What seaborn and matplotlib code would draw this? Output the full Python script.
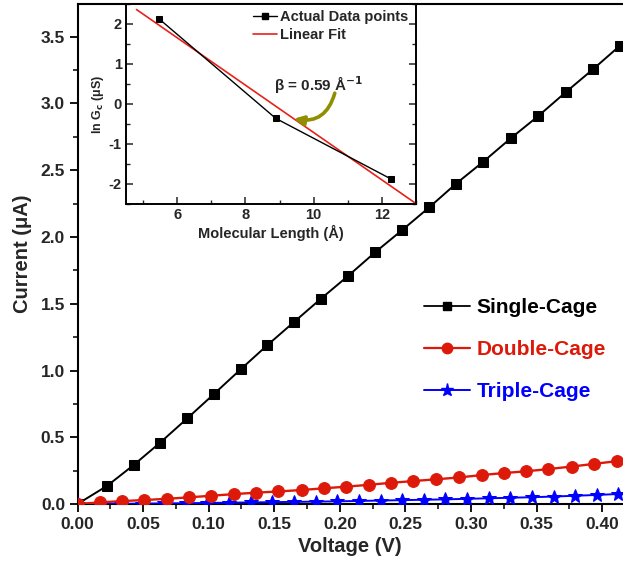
import matplotlib
matplotlib.use('Agg')
import matplotlib.pyplot as plt
import seaborn as sns
import pandas as pd
from matplotlib.lines import Line2D
from matplotlib.ticker import MultipleLocator, FormatStrFormatter

# ---------------- data ----------------
single_v = [0.0, 0.0227, 0.0428, 0.0629, 0.0837, 0.1040, 0.1244, 0.1446, 0.1650, 0.1856,
            0.2062, 0.2268, 0.2475, 0.2681, 0.2885, 0.3093, 0.3302, 0.3512, 0.3721, 0.3929, 0.4135]
single_i = [0.0, 0.137, 0.292, 0.459, 0.642, 0.824, 1.009, 1.189, 1.363, 1.538,
            1.708, 1.885, 2.052, 2.222, 2.399, 2.564, 2.739, 2.906, 3.084, 3.256, 3.433]

double_v = [0.0, 0.017, 0.034, 0.051, 0.068, 0.085, 0.102, 0.119, 0.136, 0.153, 0.171, 0.188,
            0.205, 0.222, 0.239, 0.256, 0.273, 0.291, 0.308, 0.325, 0.342, 0.359, 0.377, 0.394, 0.411]
double_i = [0.0, 0.012, 0.022, 0.030, 0.039, 0.050, 0.062, 0.074, 0.085, 0.094, 0.105, 0.118,
            0.130, 0.144, 0.159, 0.172, 0.185, 0.199, 0.217, 0.232, 0.245, 0.262, 0.281, 0.301, 0.321]

triple_v = [0.0, 0.0165, 0.033, 0.0495, 0.066, 0.0825, 0.099, 0.1155, 0.132, 0.1485, 0.165, 0.1815,
            0.198, 0.2145, 0.231, 0.2475, 0.264, 0.2805, 0.297, 0.3135, 0.330, 0.3465, 0.363,
            0.3795, 0.396, 0.412]
triple_i = [0.0, 0.001, 0.002, 0.003, 0.005, 0.006, 0.008, 0.010, 0.012, 0.014, 0.016, 0.018,
            0.020, 0.023, 0.026, 0.029, 0.032, 0.035, 0.039, 0.043, 0.047, 0.051, 0.056,
            0.062, 0.068, 0.075]

series_names = ["Single-Cage", "Double-Cage", "Triple-Cage"]

inset_length = [5.48, 8.89, 12.28]
inset_lnG = [2.12, -0.36, -1.88]
fit_length = [4.81, 12.95]
fit_lnG = [2.36, -2.46]
inset_names = ["Actual Data points", "Linear Fit"]
beta_text = "β = 0.59 Å$^{\\mathbf{-1}}$"

# ---------------- style ----------------
sns.set_style("ticks")
plt.rcParams['font.family'] = ['Liberation Sans', 'DejaVu Sans']
plt.rcParams['font.weight'] = 'bold'
plt.rcParams['axes.labelweight'] = 'bold'
plt.rcParams['axes.unicode_minus'] = False
plt.rcParams['mathtext.default'] = 'bf'

RED = '#DD1A0A'
BLUE = '#0000FF'
OLIVE = '#8F8F00'

fig = plt.figure(figsize=(6.23, 5.66), dpi=100)
ax = fig.add_axes([0.1244, 0.1095, 0.8756, 0.8834])

sns.lineplot(x=triple_v, y=triple_i, ax=ax, color=BLUE, marker='*', markersize=10.5,
             markeredgecolor=BLUE, linewidth=1.4, zorder=3)
sns.lineplot(x=single_v, y=single_i, ax=ax, color='black', marker='s', markersize=6.8,
             markeredgecolor='black', linewidth=1.4, zorder=4)
sns.lineplot(x=double_v, y=double_i, ax=ax, color=RED, marker='o', markersize=8.5,
             markeredgecolor=RED, linewidth=1.7, zorder=5)

ax.set_xlim(0, 0.4158)
ax.set_ylim(0, 3.745)
ax.xaxis.set_major_locator(MultipleLocator(0.05))
ax.xaxis.set_minor_locator(MultipleLocator(0.025))
ax.yaxis.set_major_locator(MultipleLocator(0.5))
ax.yaxis.set_minor_locator(MultipleLocator(0.25))
ax.xaxis.set_major_formatter(FormatStrFormatter('%.2f'))
ax.yaxis.set_major_formatter(FormatStrFormatter('%.1f'))
ax.tick_params(axis='both', which='major', direction='out', length=6, width=1.3,
               labelsize=12.5, color='black', pad=3)
ax.tick_params(axis='both', which='minor', direction='out', length=3.5, width=1.1, color='black')
for lab in ax.get_xticklabels() + ax.get_yticklabels():
    lab.set_fontweight('bold')
for s in ['left', 'bottom', 'top']:
    ax.spines[s].set_linewidth(1.5)
    ax.spines[s].set_color('black')
ax.spines['right'].set_visible(False)
ax.set_xlabel("Voltage (V)", fontsize=14.5, fontweight='bold', labelpad=4)
ax.set_ylabel("Current (μA)", fontsize=14.5, fontweight='bold', labelpad=6)

handles = [
    Line2D([], [], color='black', marker='s', markersize=6, linewidth=1.3),
    Line2D([], [], color=RED, marker='o', markersize=7.5, linewidth=1.6),
    Line2D([], [], color=BLUE, marker='*', markersize=9.5, linewidth=1.4),
]
leg = ax.legend(handles, series_names, loc='upper left', bbox_to_anchor=(0.636, 0.412),
                frameon=False, fontsize=15, handlelength=2.2, handletextpad=0.3,
                labelspacing=1.1, borderpad=0, borderaxespad=0)
for t, c in zip(leg.get_texts(), ['black', RED, BLUE]):
    t.set_color(c)
    t.set_fontweight('bold')

# ---------------- inset ----------------
ins = fig.add_axes([0.2022, 0.6396, 0.4655, 0.3534])
ins.set_facecolor('white')
sns.lineplot(x=inset_length, y=inset_lnG, ax=ins, color='black', marker='s', markersize=4.5,
             markeredgecolor='black', linewidth=1.0, zorder=3)
sns.lineplot(x=fit_length, y=fit_lnG, ax=ins, color='#E8211A', linewidth=1.2, zorder=2)
ins.set_xlim(4.5, 13.0)
ins.set_ylim(-2.5, 2.5)
ins.xaxis.set_major_locator(MultipleLocator(2))
ins.xaxis.set_minor_locator(MultipleLocator(1))
ins.yaxis.set_major_locator(MultipleLocator(1))
ins.yaxis.set_minor_locator(MultipleLocator(0.5))
ins.tick_params(axis='both', which='major', direction='in', length=5, width=1.1,
                labelsize=10.5, top=False, right=True, pad=3)
ins.tick_params(axis='both', which='minor', direction='in', length=3, width=1.0,
                top=False, right=True)
for lab in ins.get_xticklabels() + ins.get_yticklabels():
    lab.set_fontweight('bold')
for s in ins.spines.values():
    s.set_linewidth(1.4)
    s.set_color('black')
ins.set_xlabel("Molecular Length (Å)", fontsize=10.5, fontweight='bold', labelpad=2)
ins.set_ylabel("ln G$_\\mathbf{c}$ (μS)", fontsize=9, fontweight='bold', labelpad=2)

ihandles = [
    Line2D([], [], color='black', marker='s', markersize=4.5, linewidth=1.0),
    Line2D([], [], color='#E8211A', linewidth=1.2),
]
ileg = ins.legend(ihandles, inset_names, loc='upper left', bbox_to_anchor=(0.437, 0.97),
                  frameon=False, fontsize=10.5, handlelength=1.7, handletextpad=0.15,
                  labelspacing=0.3, borderpad=0, borderaxespad=0)
for t in ileg.get_texts():
    t.set_fontweight('bold')

ins.text(10.15, 0.48, beta_text, fontsize=11, fontweight='bold', ha='center', va='center')
ins.annotate("", xy=(9.42, -0.37), xytext=(10.62, 0.27),
             arrowprops=dict(arrowstyle='-|>', color=OLIVE, lw=2.6, mutation_scale=14,
                             connectionstyle='arc3,rad=-0.45', shrinkA=0, shrinkB=0))

fig.savefig('out.png', dpi=100)
